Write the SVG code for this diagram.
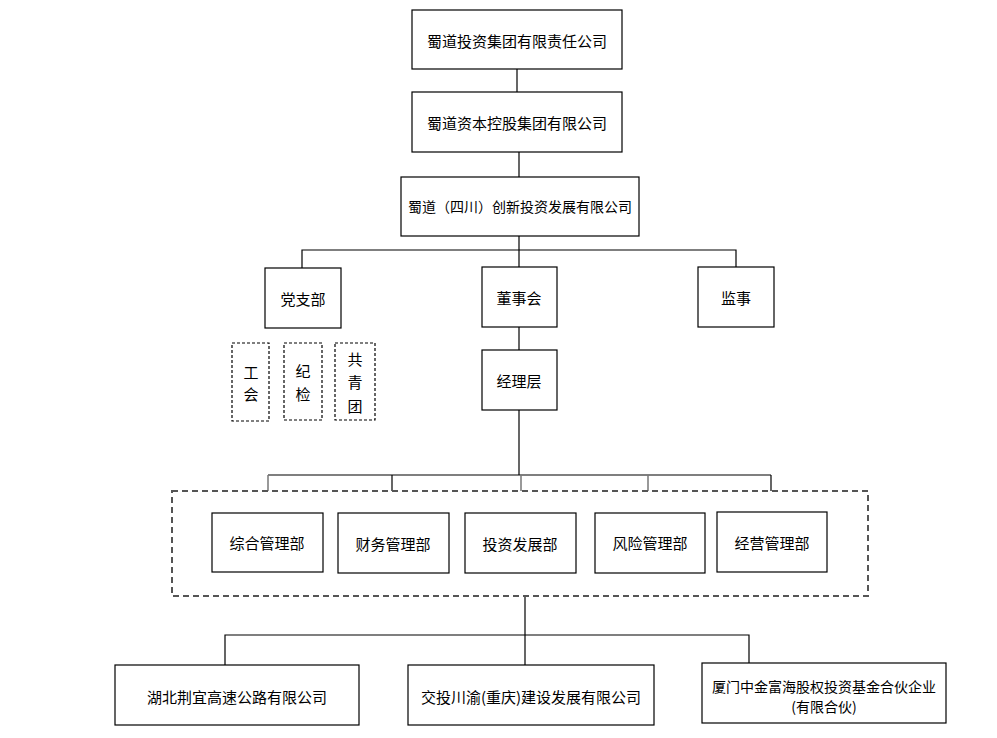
<svg xmlns="http://www.w3.org/2000/svg" width="997" height="738" viewBox="0 0 997 738">
<style>
.box{fill:#fff;stroke:#000;stroke-width:1.2}
.dbox{fill:none;stroke:#000;stroke-width:1.2;stroke-dasharray:3,2}
.grp{fill:none;stroke:#555;stroke-width:2;stroke-dasharray:6,4}
.ln{fill:none;stroke:#000;stroke-width:1.2}
.tk{fill:none;stroke:#777;stroke-width:1.5}
text{font-family:"Noto Sans CJK SC","Noto Sans",sans-serif;font-size:15px;fill:#000;text-anchor:middle;dominant-baseline:central}
text.sm{font-size:14px}
</style>
<rect width="997" height="738" fill="#fff"/>
<g id="connectors">
<line class="ln" x1="517" y1="69" x2="517" y2="92"/>
<line class="ln" x1="519" y1="152" x2="519" y2="177"/>
<line class="ln" x1="519" y1="236" x2="519" y2="267"/>
<polyline class="ln" points="302,268 302,250 736,250 736,267"/>
<line class="ln" x1="519" y1="327" x2="519" y2="350"/>
<line class="ln" x1="519" y1="410" x2="519" y2="475"/>
<line class="ln" x1="268" y1="475" x2="771" y2="475"/>
<line class="tk" x1="268" y1="475" x2="268" y2="491"/>
<line class="ln" x1="392" y1="475" x2="392" y2="491"/>
<line class="tk" x1="521" y1="475" x2="521" y2="491"/>
<line class="tk" x1="648" y1="475" x2="648" y2="491"/>
<line class="ln" x1="771" y1="475" x2="771" y2="491"/>
<line class="ln" x1="525" y1="596" x2="525" y2="665"/>
<polyline class="ln" points="225,665 225,635 749,635 749,663"/>
</g>
<g id="n1"><rect class="box" x="412" y="10" width="210" height="59"/><text x="517" y="40">蜀道投资集团有限责任公司</text></g>
<g id="n2"><rect class="box" x="412" y="92" width="210" height="60"/><text x="517" y="122">蜀道资本控股集团有限公司</text></g>
<g id="n3"><rect class="box" x="401" y="177" width="238" height="59"/><text class="sm" x="520" y="206">蜀道（四川）创新投资发展有限公司</text></g>
<g id="dangzhibu"><rect class="box" x="265" y="268" width="76" height="60"/><text x="303" y="298">党支部</text></g>
<g id="dongshihui"><rect class="box" x="482" y="267" width="75" height="60"/><text x="519" y="297">董事会</text></g>
<g id="jianshi"><rect class="box" x="698" y="267" width="76" height="60"/><text x="736" y="297">监事</text></g>
<g id="gonghui"><rect class="dbox" x="232" y="343" width="37" height="78"/><text x="251" y="371">工</text><text x="251" y="393">会</text></g>
<g id="jijian"><rect class="dbox" x="284" y="343" width="38" height="77"/><text x="303" y="370">纪</text><text x="303" y="393">检</text></g>
<g id="gongqingtuan"><rect class="dbox" x="335" y="343" width="40" height="77"/><text x="355" y="358">共</text><text x="355" y="381">青</text><text x="355" y="405">团</text></g>
<g id="jinglixing"><rect class="box" x="482" y="350" width="75" height="60"/><text x="519" y="380">经理层</text></g>
<g id="depts"><rect class="grp" x="172" y="491" width="696" height="105"/></g>
<g id="d1"><rect class="box" x="212" y="513" width="111" height="59"/><text x="267" y="542">综合管理部</text></g>
<g id="d2"><rect class="box" x="338" y="513" width="111" height="60"/><text x="393" y="543">财务管理部</text></g>
<g id="d3"><rect class="box" x="465" y="513" width="111" height="60"/><text x="520" y="543">投资发展部</text></g>
<g id="d4"><rect class="box" x="595" y="513" width="110" height="60"/><text x="650" y="542">风险管理部</text></g>
<g id="d5"><rect class="box" x="717" y="512" width="110" height="60"/><text x="772" y="542">经营管理部</text></g>
<g id="s1"><rect class="box" x="115" y="665" width="244" height="60"/><text x="237" y="696">湖北荆宜高速公路有限公司</text></g>
<g id="s2"><rect class="box" x="408" y="665" width="246" height="60"/><text x="531" y="696">交投川渝(重庆)建设发展有限公司</text></g>
<g id="s3"><rect class="box" x="702" y="663" width="244" height="60"/><text class="sm" x="824" y="686">厦门中金富海股权投资基金合伙企业</text><text class="sm" x="824" y="706">(有限合伙)</text></g>
</svg>
